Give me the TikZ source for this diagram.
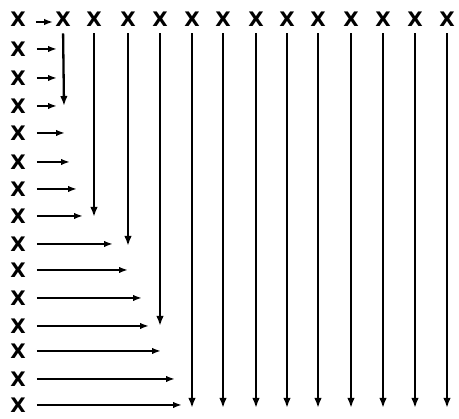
\documentclass[tikz,border=0pt]{standalone}
\usepackage{fontspec}
\setmainfont{Liberation Sans}
\newfontfamily\xfont{DejaVu Sans}
\usetikzlibrary{arrows.meta}
\begin{document}
\begin{tikzpicture}[x=1pt,y=-1pt,
  xmark/.style={font=\fontsize{20}{20}\xfont\bfseries, inner sep=0pt},
  flow/.style={line width=2.3pt, -{Latex[length=9pt,width=6.5pt]}},
  drop/.style={line width=2.3pt, -{Latex[length=10pt,width=7.5pt]}}]
\useasboundingbox (0,0) rectangle (459,419);
% left column of X
\foreach \i/\y in {0/19,1/49,2/78,3/106,4/133,5/162,6/189,7/216,8/244,9/270,10/298,11/326,12/351,13/379,14/405}
  \node[xmark] (L\i) at (18,\y) {X};
% top row of X
\foreach \j/\x in {1/63,2/94,3/128,4/160,5/192,6/223,7/256,8/287,9/318,10/351,11/383,12/415,13/447}
  \node[xmark] (T\j) at (\x,19) {X};
% ends of horizontal arrows
\foreach \i/\x/\y in {1/57/49,2/57/78,3/57/106,4/65/133,5/70/162,6/77/189,7/83/216,8/113/244,9/128/270,10/142/298,11/149/326,12/161/351,13/175/379,14/182/405}
  \coordinate (h\i) at (\x,\y);
\foreach \i in {1,...,14}
  \draw[flow, shorten <=11pt] (L\i.east) -- (h\i);
% top-row arrow
\draw[flow, shorten <=10pt, shorten >=2pt] ([yshift=-3pt]L0.east) -- ([yshift=-3pt]T1.west);
% ends of vertical lines
\foreach \j/\x/\y in {1/64/106,2/94/217,3/128/246,4/160/326,5/192/408,6/223/408,7/256/408,8/287/408,9/318/408,10/351/408,11/383/408,12/415/408,13/447/408}
  \coordinate (v\j) at (\x,\y);
\foreach \j in {1,...,13}
  \draw[drop, shorten <=7pt] (T\j.south) -- (v\j);
\end{tikzpicture}
\end{document}
